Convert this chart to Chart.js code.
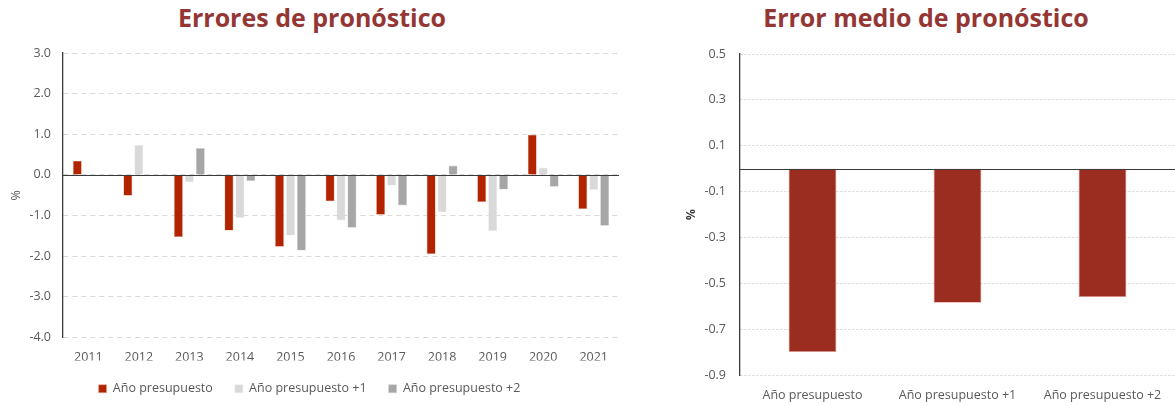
<!DOCTYPE html>
<html>
<head>
<meta charset="utf-8">
<script src="https://cdn.jsdelivr.net/npm/chart.js@4.4.0/dist/chart.umd.min.js"></script>
<style>
  html, body { margin: 0; padding: 0; background: #fff; }
  body { width: 1175px; height: 406px; position: relative; overflow: hidden; font-family: "Open Sans", sans-serif; }
  .ttl { position: absolute; top: 0px; font-weight: 700; font-size: 25px; color: #943634; white-space: nowrap; transform: translateX(-50%); }
  #wrapL { position: absolute; left: 0; top: 0; width: 626px; height: 406px; }
  #wrapR { position: absolute; left: 650px; top: 0; width: 525px; height: 406px; }
</style>
</head>
<body>
<div class="ttl" style="left:312px">Errores de pronóstico</div>
<div class="ttl" style="left:926px">Error medio de pronóstico</div>
<div id="wrapL"><canvas id="chartL"></canvas></div>
<div id="wrapR"><canvas id="chartR"></canvas></div>
<script>
// ── datos ───────────────────────────────────────────
const years = ['2011','2012','2013','2014','2015','2016','2017','2018','2019','2020','2021'];
const errAnio   = [0.35, -0.51, -1.53, -1.37, -1.77, -0.65, -0.98, -1.95, -0.67, 0.99, -0.84];
const errAnio1  = [null, 0.74, -0.18, -1.06, -1.49, -1.12, -0.26, -0.92, -1.38, 0.18, -0.37];
const errAnio2  = [null, null, 0.66, -0.15, -1.86, -1.30, -0.75, 0.23, -0.36, -0.29, -1.25];
const ticksL    = [3, 2, 1, 0, -1, -2, -3, -4];

const medioCats = ['Año presupuesto', 'Año presupuesto +1', 'Año presupuesto +2'];
const medioVals = [-0.80, -0.585, -0.56];
const ticksR    = [0.5, 0.3, 0.1, -0.1, -0.3, -0.5, -0.7, -0.9];

const FONT = '"Open Sans", sans-serif';
const TXT = '#595959';

// línea del cero, dibujada con la escala y
const zeroLine = {
    id: 'zeroLine',
    afterDatasetsDraw(chart) {
        const y = chart.scales.y.getPixelForValue(0);
        const a = chart.chartArea;
        const c = chart.ctx;
        c.save();
        c.strokeStyle = '#3a3a3a';
        c.lineWidth = 1.2;
        c.beginPath();
        c.moveTo(a.left, Math.round(y) + 0.5);
        c.lineTo(a.right, Math.round(y) + 0.5);
        c.stroke();
        c.restore();
    }
};

/* ── Errores de pronóstico ───────────────────────── */
new Chart(document.getElementById('chartL'), {
    type: 'bar',
    data: {
        labels: years,
        datasets: [
            { label: 'Año presupuesto',    data: errAnio,  backgroundColor: '#B22400', borderColor: '#E8A890', borderWidth: 0.6 },
            { label: 'Año presupuesto +1', data: errAnio1, backgroundColor: '#D9D9D9', borderColor: '#EDEDED', borderWidth: 0.6 },
            { label: 'Año presupuesto +2', data: errAnio2, backgroundColor: '#A6A6A6', borderColor: '#D0D0D0', borderWidth: 0.6 }
        ]
    },
    options: {
        responsive: true, maintainAspectRatio: false, animation: false,
        categoryPercentage: 0.65, barPercentage: 0.82,
        layout: { padding: { top: 53, right: 7, left: 0, bottom: 1 } },
        plugins: {
            legend: {
                position: 'bottom',
                labels: { boxWidth: 8, boxHeight: 8, padding: 22, color: TXT, font: { family: FONT, size: 12.5 } }
            },
            tooltip: { enabled: false }
        },
        scales: {
            x: {
                grid: { display: false, drawTicks: false },
                border: { display: false },
                ticks: { color: TXT, padding: 12, font: { family: FONT, size: 12.5 } },
                afterFit: s => { s.height = 23; }
            },
            y: {
                min: -4, max: 3,
                afterBuildTicks: s => { s.ticks = ticksL.map(v => ({ value: v })); },
                afterFit: s => { s.width = 63; },
                grid: { color: '#D9D9D9', drawTicks: false, lineWidth: 1 },
                border: { display: true, color: '#3a3a3a', width: 1.3, dash: [5, 4] },
                ticks: { color: TXT, padding: 12, font: { family: FONT, size: 12.5 }, callback: v => v.toFixed(1) },
                title: { display: true, text: '%', color: TXT, padding: 9, font: { family: FONT, size: 12.5 } }
            }
        }
    },
    plugins: [zeroLine]
});

/* ── Error medio de pronóstico ───────────────────── */
new Chart(document.getElementById('chartR'), {
    type: 'bar',
    data: {
        labels: medioCats,
        datasets: [
            { label: 'Error medio', data: medioVals, backgroundColor: '#9A2D20', borderColor: '#D9968C', borderWidth: 0.8 }
        ]
    },
    options: {
        responsive: true, maintainAspectRatio: false, animation: false,
        categoryPercentage: 0.33, barPercentage: 1,
        layout: { padding: { top: 54, right: 0, left: 30, bottom: 0 } },
        plugins: { legend: { display: false }, tooltip: { enabled: false } },
        scales: {
            x: {
                grid: { display: false, drawTicks: false },
                border: { display: false },
                ticks: { color: TXT, padding: 13, font: { family: FONT, size: 12.5 } },
                afterFit: s => { s.height = 31; }
            },
            y: {
                min: -0.9, max: 0.5,
                afterBuildTicks: s => { s.ticks = ticksR.map(v => ({ value: v })); },
                afterFit: s => { s.width = 60; },
                grid: { color: '#D4D4D4', drawTicks: false, lineWidth: 1 },
                border: { display: true, color: '#3a3a3a', width: 1.3, dash: [2, 2] },
                ticks: { color: TXT, padding: 14, font: { family: FONT, size: 12.5 }, callback: v => v.toFixed(1) },
                title: { display: true, text: '%', color: '#404040', padding: 4, font: { family: FONT, size: 12.5, weight: 'bold' } }
            }
        }
    },
    plugins: [zeroLine]
});
</script>
</body>
</html>
